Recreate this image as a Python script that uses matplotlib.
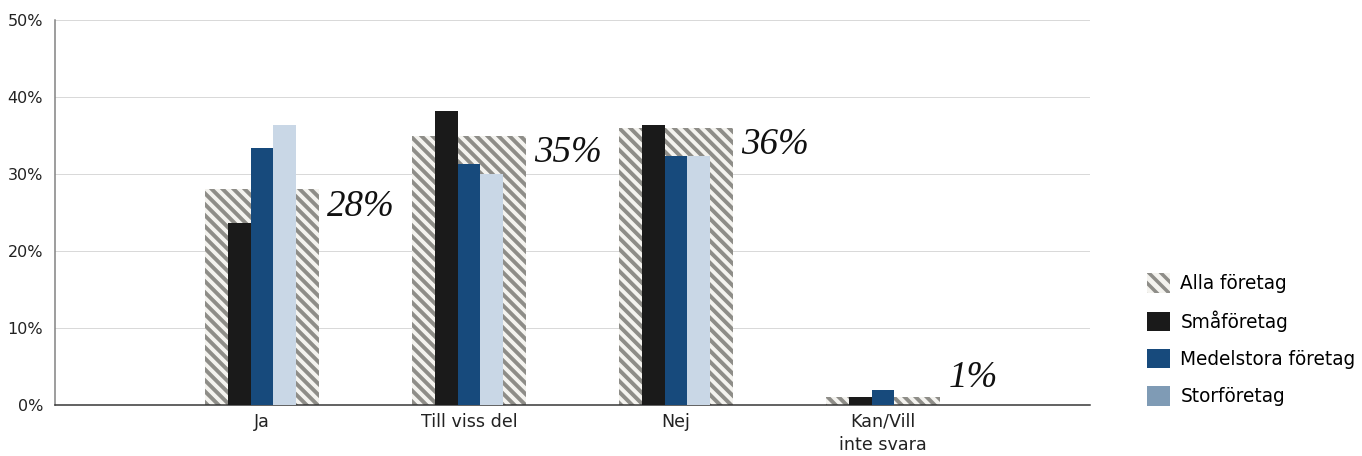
import numpy as np
import matplotlib
matplotlib.use('Agg')
import matplotlib.pyplot as plt
from matplotlib.patches import Patch
from matplotlib.collections import LineCollection
from matplotlib.transforms import IdentityTransform, TransformedPatchPath

# data
categories = ['Ja', 'Till viss del', 'Nej', 'Kan/Vill\ninte svara']
alla = [28, 35, 36, 1]
sma = [23.6, 38.2, 36.4, 1.0]
medel = [33.4, 31.3, 32.3, 1.9]
stor = [36.4, 30.0, 32.3, 0.0]
alla_labels = ['28%', '35%', '36%', '1%']
series_names = ['Alla företag', 'Småföretag', 'Medelstora företag', 'Storföretag']

# colours
c_hatch = '#8e8d88'
c_bg = '#f4f3ef'
c_black = '#1a1a1a'
c_blue = '#174a7c'
c_light = '#c9d7e6'
c_light_leg = '#7f9bb5'

plt.rcParams['font.family'] = ['DejaVu Sans']
plt.rcParams['hatch.linewidth'] = 3.5

fig = plt.figure(figsize=(1362/72, 456/72), dpi=72)
ax = fig.add_axes([55/1362, 1-405/456, (1090-55)/1362, (405-20)/456])
ax.set_xlim(-1.0, 4.0)
ax.set_ylim(0, 50)

x = np.arange(len(categories))
w = 0.111

bars = ax.bar(x, alla, width=0.55, color=c_bg, linewidth=0, zorder=2)
# diagonal stripes drawn in pixel space, clipped to each bar
period = 11
for b in bars:
    x0, y0 = ax.transData.transform((b.get_x(), 0))
    x1, y1 = ax.transData.transform((b.get_x() + b.get_width(), b.get_height()))
    h = y1 - y0
    start = np.floor((x0 - h) / period) * period - period
    segs = [[(c, y1 + 3), (c + h + 6, y0 - 3)] for c in np.arange(start, x1 + period, period)]
    lc = LineCollection(segs, transform=IdentityTransform(), colors=c_hatch,
                        linewidths=3.9, capstyle='butt', zorder=2.5)
    ax.add_artist(lc)
    lc.set_clip_path(TransformedPatchPath(b))

ax.bar(x - w, sma, width=w, color=c_black, zorder=3)
ax.bar(x, medel, width=w, color=c_blue, zorder=3)
ax.bar(x + w, stor, width=w, color=c_light, zorder=3)

for xi, v, lab in zip(x, alla, alla_labels):
    ty = v - 2.2 if v > 5 else v + 2.6
    ax.text(xi + 0.55/2 + 0.04, ty, lab, ha='left', va='center',
            fontsize=37, fontstyle='italic', family='Liberation Serif', color='#111111', zorder=4)

ax.set_yticks(np.arange(0, 51, 10))
ax.set_yticklabels([f'{t}%' for t in range(0, 51, 10)], fontsize=16, color='#222222')
ax.set_xticks(x)
ax.set_xticklabels(categories, fontsize=17.5, color='#222222', linespacing=1.35)
ax.tick_params(axis='x', length=0, pad=8)
ax.tick_params(axis='y', length=0, pad=12)
ax.grid(axis='y', color='#d9d9d9', linewidth=1, zorder=0)
ax.set_axisbelow(True)
for s in ['top', 'right']:
    ax.spines[s].set_visible(False)
ax.spines['left'].set_color('#808080')
ax.spines['left'].set_linewidth(1.5)
ax.spines['bottom'].set_color('#333333')
ax.spines['bottom'].set_linewidth(1.5)

handles = [
    Patch(facecolor=c_bg, edgecolor=c_hatch, hatch='\\\\', linewidth=0),
    Patch(facecolor=c_black),
    Patch(facecolor=c_blue),
    Patch(facecolor=c_light_leg),
]
fig.legend(handles, series_names, loc='upper left', bbox_to_anchor=(1147/1362, 1-273/456),
           frameon=False, fontsize=18.5, handlelength=1.25, handleheight=1.25,
           labelspacing=0.93, handletextpad=0.55, borderaxespad=0, borderpad=0)

fig.savefig('out.png', dpi=72)
